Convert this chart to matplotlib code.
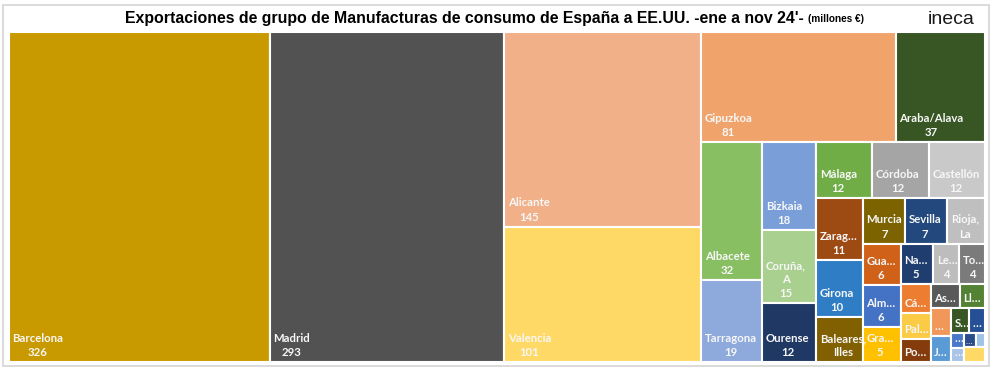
import matplotlib.pyplot as plt
from matplotlib.patches import Rectangle

provincias = ["Barcelona", "Madrid", "Alicante", "Valencia", "Gipuzkoa", "Araba/Alava",
              "Albacete", "Tarragona", "Bizkaia", "Coruña,\nA", "Ourense", "Málaga",
              "Córdoba", "Castellón", "Zarag…", "Girona", "Baleares,\nIlles", "Murcia",
              "Sevilla", "Rioja,\nLa", "Gua…", "Alm…", "Gra…", "Na…", "Le…", "To…",
              "Cá…", "Pal…", "Po…", "As…", "Ll…", "…", "J…", "S…", "…",
              "…", "…", "…", "", ""]
valores = [326, 293, 145, 101, 81, 37, 32, 19, 18, 15, 12, 12, 12, 12, 11, 10, 8,
           7.3, 7.2, 6.5, 6, 6, 5, 5, 4, 4, 3.2, 3.0, 2.6, 2.6, 2.3, 2.1, 2.0, 1.7, 1.5,
           0.75, 0.72, 0.6, 0.5, 1.2]
colores = ["#C99A00", "#525252", "#F1B088", "#FFD966", "#F0A46C", "#375623",
           "#88BF62", "#8EA9DB", "#7A9FD8", "#A9D08E", "#1F3864", "#70AD47",
           "#A5A5A5", "#C9C9C9", "#9E4A13", "#2F7DC4", "#806000", "#7D6300",
           "#22487E", "#BFBFBF", "#CF6119", "#4472C4", "#FFC000", "#1F3D6E",
           "#BDBDBD", "#7B7B7B", "#ED7D31", "#FBCB45", "#843C0C", "#595959",
           "#548235", "#F19759", "#5B9BD5", "#375623", "#255096",
           "#4A78C8", "#A9C4E8", "#2B4C8C", "#9DC3E6", "#FFD966"]
# etiquetas sin valor visible (no cabe en la celda)
sin_valor = ["Baleares,\nIlles", "Rioja,\nLa", "Cá…", "Pal…", "Po…", "As…", "Ll…",
             "…", "J…", "S…", ""]
# celdas por tira, en el orden en que Excel las reparte
tiras = [1, 1, 2, 2, 2, 3, 3, 3, 3, 3, 3, 3, 2, 2, 2, 2, 2, 1]


def treemap(vals, tiras, x, y, w, h):
    # cada tira va por el lado corto del hueco que queda (columna o fila)
    k = w * h / sum(vals)
    rects = []
    i = 0
    for n in tiras:
        areas = [v * k for v in vals[i:i + n]]
        vertical = w >= h
        side = h if vertical else w
        t = sum(areas) / side
        pos = y if vertical else x
        for a in areas:
            l = a / t
            rects.append((x, pos, t, l) if vertical else (pos, y, l, t))
            pos += l
        if vertical:
            x += t
            w -= t
        else:
            y += t
            h -= t
        i += n
    return rects


W, H = 976, 330
fig = plt.figure(figsize=(9.93, 3.68), dpi=100)
fig.patches.append(Rectangle((3 / 993, 2 / 368), 986 / 993, 361 / 368, transform=fig.transFigure,
                             fill=False, edgecolor="#D4D4D4", linewidth=1.2))
ax = fig.add_axes([9 / 993, 6 / 368, W / 993, H / 368])
ax.set_xlim(0, W)
ax.set_ylim(H, 0)
ax.axis("off")

for (x, y, w, h), nombre, v, c in zip(treemap(valores, tiras, 0, 0, W, H), provincias, valores, colores):
    r = Rectangle((x, y), w, h, facecolor=c, edgecolor="white", linewidth=1.5)
    ax.add_patch(r)
    if not nombre:
        continue
    txt = nombre if nombre in sin_valor else nombre + "\n" + f"{v:.0f}"
    fs = 8.2 if w > 12 else 6
    t = ax.text(x + (3.5 if w > 12 else 1.5), y + h - (4 if w > 12 else 2), txt,
                ha="left", va="bottom", multialignment="center",
                color="#F7F7F7", fontsize=fs, fontweight="bold", family="Lato", linespacing=1.35)
    t.set_clip_path(r)

titulo = fig.text(125 / 993, 1 - 18 / 368,
                  "Exportaciones de grupo de Manufacturas de consumo de España a EE.UU. -ene a nov 24'-",
                  ha="left", va="center", fontsize=11.4, fontweight="bold", family="Liberation Sans")
ax.annotate("(millones €)", xy=(1, 0.5), xycoords=titulo, xytext=(3, -1), textcoords="offset points",
            ha="left", va="center", fontsize=7.2, fontweight="bold", family="Liberation Sans")
fig.text(951 / 993, 1 - 20 / 368, "ineca", ha="center", va="center", fontsize=14,
         family="Liberation Sans", color="#1A1A1A")

fig.savefig("out.png", dpi=100)
